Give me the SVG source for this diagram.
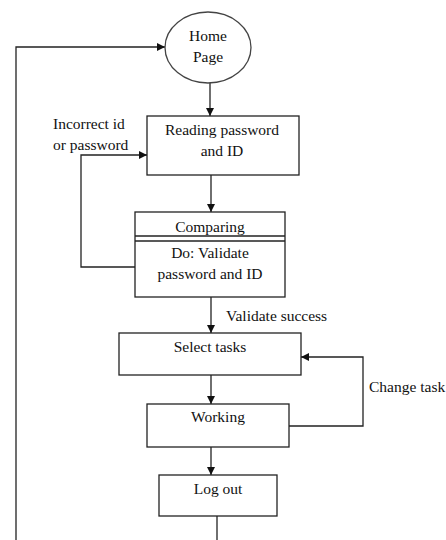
<svg xmlns="http://www.w3.org/2000/svg" width="446" height="540" viewBox="0 0 446 540">
<style>
.box{fill:#fff;stroke:#222;stroke-width:1.3}
.ln{fill:none;stroke:#222;stroke-width:1.3}
text{font-family:"Liberation Serif","Times New Roman",serif;font-size:15.5px;fill:#111}
.c{text-anchor:middle}
</style>
<defs>
<marker id="ah" viewBox="0 0 10 10" refX="10" refY="5" markerWidth="8" markerHeight="8" markerUnits="userSpaceOnUse" orient="auto">
<path d="M0,0 L10,5 L0,10 z" fill="#111"/>
</marker>
</defs>
<rect width="446" height="540" fill="#fff"/>
<g id="connectors">
<path class="ln" d="M210,83 V116" marker-end="url(#ah)"/>
<path class="ln" d="M211,175 V212" marker-end="url(#ah)"/>
<path class="ln" d="M135,267 H81 V155 H147" marker-end="url(#ah)"/>
<path class="ln" d="M211,297 V333" marker-end="url(#ah)"/>
<path class="ln" d="M211,375 V404" marker-end="url(#ah)"/>
<path class="ln" d="M289,426 H363 V357 H301" marker-end="url(#ah)"/>
<path class="ln" d="M211,447 V475" marker-end="url(#ah)"/>
<path class="ln" d="M217,516 V540"/>
<path class="ln" d="M16,540 V47 H165" marker-end="url(#ah)"/>
<text x="53" y="129">Incorrect id</text>
<text x="53" y="150">or password</text>
<text x="226" y="321">Validate success</text>
<text x="369" y="392">Change task</text>
</g>
<g id="home">
<ellipse cx="208" cy="47.5" rx="43" ry="35.5" fill="#fff" stroke="#444" stroke-width="1.3"/>
<text class="c" x="208" y="41">Home</text>
<text class="c" x="208" y="62">Page</text>
</g>
<g id="reading">
<rect class="box" x="147" y="116" width="152" height="59"/>
<text class="c" x="222" y="135">Reading password</text>
<text class="c" x="222" y="156">and ID</text>
</g>
<g id="comparing">
<rect class="box" x="135" y="212" width="150" height="85"/>
<line class="ln" x1="135" y1="236" x2="285" y2="236"/>
<line class="ln" x1="135" y1="241" x2="285" y2="241"/>
<text class="c" x="210" y="232">Comparing</text>
<text class="c" x="210" y="258">Do: Validate</text>
<text class="c" x="210" y="279">password and ID</text>
</g>
<g id="select">
<rect class="box" x="119" y="333" width="182" height="42"/>
<text class="c" x="210" y="352">Select tasks</text>
</g>
<g id="working">
<rect class="box" x="147" y="404" width="142" height="43"/>
<text class="c" x="218" y="422">Working</text>
</g>
<g id="logout">
<rect class="box" x="159" y="475" width="118" height="41"/>
<text class="c" x="218" y="494">Log out</text>
</g>
</svg>
